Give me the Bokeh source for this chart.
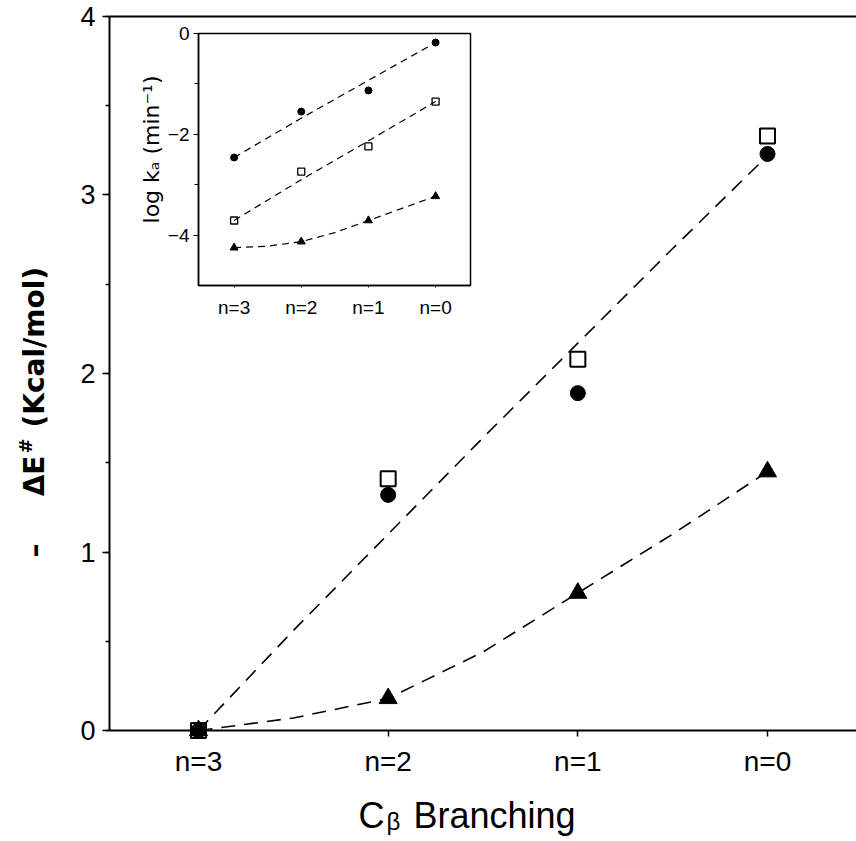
import numpy as np
from bokeh.plotting import figure
from bokeh.models import Range1d, LinearAxis, FixedTicker, SingleIntervalTicker, Label
from bokeh.embed import file_html
from bokeh.resources import INLINE

# ---------------- data ----------------
categories = ["n=3", "n=2", "n=1", "n=0"]
cat_pos = [0, 1, 2, 3]

main_circle = [0.0, 1.32, 1.89, 3.23]
main_square = [0.0, 1.41, 2.08, 3.33]
main_triangle = [0.0, 0.18, 0.77, 1.45]

fit_x = [0, 0.5, 1, 1.5, 2, 2.5, 3]
main_fit_upper = [0.0, 0.56, 1.10, 1.64, 2.17, 2.70, 3.22]
main_fit_lower = [0.0, 0.07, 0.18, 0.44, 0.77, 1.10, 1.45]

inset_circle = [-2.46, -1.55, -1.13, -0.18]
inset_square = [-3.71, -2.74, -2.24, -1.35]
inset_triangle = [-4.25, -4.13, -3.71, -3.23]
inset_fit_upper = [-2.46, -1.68, -0.93, -0.18]
inset_fit_middle = [-3.71, -2.90, -2.13, -1.35]
inset_fit_lower = [-4.25, -4.22, -4.13, -3.95, -3.71, -3.47, -3.23]

main_y_bounds = (0, 4)
main_x_bounds = (-0.469, 3.469)
inset_y_ticks = [0, -2, -4]
inset_y_minor = [-1, -3]
inset_x_bounds = (-0.53, 3.52)
inset_y_bounds = (-5, 0)

labels = dict(zip(cat_pos, categories))

# ---------------- figure (frame = whole canvas, axes fixed inside) ----------------
p = figure(width=856, height=841, output_backend="svg", toolbar_location=None,
           x_range=Range1d(-1.0439, 3.4692), y_range=Range1d(-0.6218, 4.0896),
           x_axis_location=None, y_axis_location=None, min_border=0)
p.grid.visible = False
p.outline_line_color = None
p.background_fill_color = "white"
p.border_fill_color = "white"

TICK_FONT = "Liberation Sans"

xa = LinearAxis(fixed_location=main_y_bounds[0], bounds=main_x_bounds,
                ticker=FixedTicker(ticks=cat_pos), major_label_overrides=labels,
                major_label_text_font=TICK_FONT, major_label_text_font_size="28px",
                major_label_standoff=9, major_tick_out=6, major_tick_in=0,
                minor_tick_out=0, minor_tick_in=0, axis_line_width=2,
                major_tick_line_width=1.5, major_label_text_color="black")
p.add_layout(xa, "below")

ya = LinearAxis(fixed_location=main_x_bounds[0], bounds=main_y_bounds,
                ticker=SingleIntervalTicker(interval=1, num_minor_ticks=2),
                major_label_text_font=TICK_FONT, major_label_text_font_size="27px",
                major_label_standoff=7, major_tick_out=7, major_tick_in=0,
                minor_tick_out=4, minor_tick_in=0, axis_line_width=2,
                major_tick_line_width=1.5, minor_tick_line_width=1.5,
                major_label_text_color="black")
p.add_layout(ya, "left")

top = LinearAxis(fixed_location=main_y_bounds[1], bounds=main_x_bounds,
                 ticker=FixedTicker(ticks=[]), major_label_text_font_size="0px",
                 major_tick_out=0, major_tick_in=0, minor_tick_out=0, minor_tick_in=0,
                 major_label_standoff=0, axis_line_width=2)
p.add_layout(top, "above")

# ---------------- main series ----------------
p.line(fit_x, main_fit_upper, line_dash="14 9", line_width=1.6, line_color="black")
p.line(fit_x, main_fit_lower, line_dash="14 9", line_width=1.6, line_color="black")
p.scatter(cat_pos, main_circle, marker="circle", size=15, fill_color="black", line_color="black")
p.scatter(cat_pos, main_square, marker="square", size=15, fill_color=None,
          line_color="black", line_width=2)
p.scatter(cat_pos, main_triangle, marker="triangle", size=18, fill_color="black", line_color="black")

# ---------------- inset ----------------
p.extra_x_ranges = {"ix": Range1d(-3.478, 9.267)}
p.extra_y_ranges = {"iy": Range1d(-16.032, 0.6548)}

p.quad(left=[inset_x_bounds[0]], right=[inset_x_bounds[1]],
       bottom=[inset_y_bounds[0]], top=[inset_y_bounds[1]],
       x_range_name="ix", y_range_name="iy",
       fill_color="white", line_color="black", line_width=1.5)

iy_axis = LinearAxis(x_range_name="ix", y_range_name="iy",
                     fixed_location=inset_x_bounds[0], bounds=inset_y_bounds,
                     ticker=FixedTicker(ticks=inset_y_ticks, minor_ticks=inset_y_minor),
                     major_tick_out=5, major_tick_in=0, minor_tick_out=4, minor_tick_in=0,
                     axis_line_width=1.5, major_label_text_font=TICK_FONT,
                     major_label_text_font_size="19px", major_label_standoff=4,
                     major_label_text_color="black")
p.add_layout(iy_axis, "left")

ix_axis = LinearAxis(x_range_name="ix", y_range_name="iy",
                     fixed_location=inset_y_bounds[0], bounds=inset_x_bounds,
                     ticker=FixedTicker(ticks=cat_pos), major_label_overrides=labels,
                     major_tick_out=2, major_tick_in=0, minor_tick_out=0, minor_tick_in=0,
                     axis_line_width=1.5, major_label_text_font=TICK_FONT,
                     major_label_text_font_size="19px", major_label_standoff=10,
                     major_label_text_color="black")
p.add_layout(ix_axis, "below")

p.line(cat_pos, inset_fit_upper, x_range_name="ix", y_range_name="iy",
       line_dash="7 5", line_width=1.2, line_color="black")
p.line(cat_pos, inset_fit_middle, x_range_name="ix", y_range_name="iy",
       line_dash="7 5", line_width=1.2, line_color="black")
p.line(fit_x, inset_fit_lower, x_range_name="ix", y_range_name="iy",
       line_dash="7 5", line_width=1.2, line_color="black")
p.scatter(cat_pos, inset_circle, x_range_name="ix", y_range_name="iy",
          marker="circle", size=7, fill_color="black", line_color="black")
p.scatter(cat_pos, inset_square, x_range_name="ix", y_range_name="iy",
          marker="square", size=7, fill_color=None, line_color="black", line_width=1.3)
p.scatter(cat_pos, inset_triangle, x_range_name="ix", y_range_name="iy",
          marker="triangle", size=8, fill_color="black", line_color="black")

# ---------------- titles (composed text, screen px from bottom-left) ----------------
def lab(text, x, y, size, font="Liberation Sans", style="normal", angle=0.0,
        align="left", baseline="alphabetic"):
    p.add_layout(Label(x=x, y=y, x_units="screen", y_units="screen", text=text,
                       angle=angle, text_font=font, text_font_size=size,
                       text_font_style=style, text_align=align,
                       text_baseline=baseline, text_color="black"))

# x-axis title: C_beta Branching
lab("C", 384, 26, "36px", align="right")
lab("β", 386, 20, "24px", align="left")
lab("Branching", 413, 26, "36px", align="left")

# y-axis title: – ΔE^# (Kcal/mol)
YF = "DejaVu Sans"
lab("–", 34, 284, "28px", font=YF, style="bold", angle=np.pi / 2, align="left")
lab("ΔE", 34, 386, "28px", font=YF, style="bold", angle=np.pi / 2, align="right")
lab("#", 25, 388, "18px", font=YF, style="bold", angle=np.pi / 2, align="left")
lab("(Kcal/mol)", 34, 414, "28px", font=YF, style="bold", angle=np.pi / 2, align="left")

# inset y title
lab("log kₐ (min⁻¹)", 151, 692, "22px", font="DejaVu Sans", angle=np.pi / 2,
    align="center", baseline="middle")

open("out.html", "w").write(file_html(p, INLINE))
